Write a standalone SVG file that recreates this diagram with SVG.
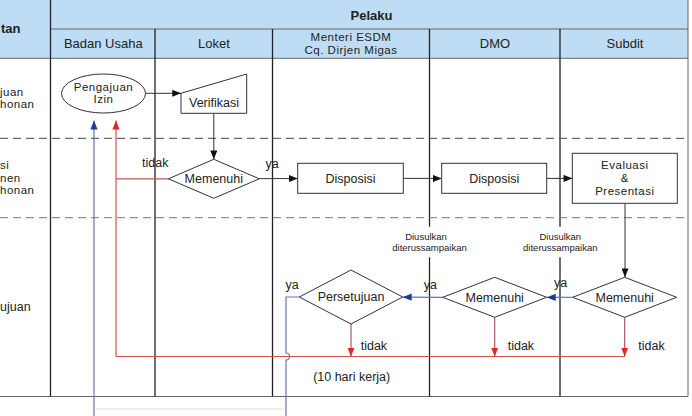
<svg xmlns="http://www.w3.org/2000/svg" width="692" height="416" viewBox="0 0 692 416">
<style>
.t{font-family:"Liberation Sans",Arial,sans-serif;fill:#222;font-size:12.5px;text-anchor:middle}
.h{font-size:13px}
.m{font-size:11.5px;letter-spacing:0.5px}
.b{font-weight:bold;font-size:13px}
.s{font-size:9.5px}
.l{text-anchor:start}
.shape{fill:#fff;stroke:#333;stroke-width:1}
.lane{stroke:#222;stroke-width:1.3;fill:none}
.hl{stroke:#666;stroke-width:1;fill:none}
.dash1{stroke:#444;stroke-width:1;stroke-dasharray:8 5;fill:none}
.dash2{stroke:#777;stroke-width:1;stroke-dasharray:8 5;fill:none}
.k{stroke:#333;stroke-width:1;fill:none}
.r{stroke:#d65050;stroke-width:1.2;fill:none}
.rd{stroke:#a85a5a;stroke-width:1.2;fill:none}
.bl{stroke:#6378a8;stroke-width:1.2;fill:none}
</style>
<defs>
<marker id="ak" viewBox="0 0 10 8" refX="10" refY="4" markerWidth="9" markerHeight="7" orient="auto" markerUnits="userSpaceOnUse"><path d="M0,0 L10,4 L0,8 z" fill="#111"/></marker>
<marker id="ar" viewBox="0 0 10 8" refX="10" refY="4" markerWidth="9" markerHeight="8" orient="auto" markerUnits="userSpaceOnUse"><path d="M0,0 L10,4 L0,8 z" fill="#e02828"/></marker>
<marker id="ab" viewBox="0 0 10 8" refX="10" refY="4" markerWidth="9" markerHeight="8" orient="auto" markerUnits="userSpaceOnUse"><path d="M0,0 L10,4 L0,8 z" fill="#1c3a96"/></marker>
</defs>
<rect x="0" y="0" width="692" height="416" fill="#fff"/>
<g id="frame">
<rect x="0" y="0" width="688" height="58" fill="#bfdcf5"/>
<line class="hl" x1="50" y1="29" x2="688" y2="29"/>
<line class="hl" x1="0" y1="58.3" x2="688" y2="58.3"/>
<line class="hl" x1="0" y1="396.5" x2="688" y2="396.5"/>
<line class="hl" x1="688" y1="0" x2="688" y2="396.5"/>
<line class="lane" x1="50.5" y1="0" x2="50.5" y2="396.5"/>
<line class="lane" x1="155" y1="29" x2="155" y2="396.5"/>
<line class="lane" x1="272.5" y1="29" x2="272.5" y2="396.5"/>
<line class="lane" x1="429.5" y1="29" x2="429.5" y2="226.7"/>
<line class="lane" x1="429.5" y1="257.3" x2="429.5" y2="396.5"/>
<line class="lane" x1="560" y1="29" x2="560" y2="226.7"/>
<line class="lane" x1="560" y1="257.3" x2="560" y2="396.5"/>
<line class="dash1" x1="0" y1="138.3" x2="688" y2="138.3"/>
<line class="dash2" x1="0" y1="217.7" x2="688" y2="217.7"/>
<line x1="96" y1="409" x2="284" y2="409" stroke="#f6e4d8" stroke-width="1.5"/>
<text class="t b l" x="1" y="32.8">tan</text>
<text class="t b" x="371.5" y="19.5">Pelaku</text>
<text class="t h" x="103.3" y="47.8">Badan Usaha</text>
<text class="t h" x="214" y="47.8">Loket</text>
<text class="t m" x="351" y="40.8">Menteri ESDM</text>
<text class="t m" x="351" y="53.6">Cq. Dirjen Migas</text>
<text class="t h" x="495" y="47.8">DMO</text>
<text class="t h" x="625" y="47.8">Subdit</text>
<text class="t m l" x="0" y="96.2">juan</text>
<text class="t m l" x="0" y="108.4">honan</text>
<text class="t m l" x="0" y="169.4">si</text>
<text class="t m l" x="0" y="181.6">nen</text>
<text class="t m l" x="0" y="193.8">honan</text>
<text class="t l" x="0" y="311.1">ujuan</text>
</g>
<g id="connectors">
<path class="k" d="M145.7,93.3 L181,93.3" marker-end="url(#ak)"/>
<path class="k" d="M213.8,113.3 L213.8,159.3" marker-end="url(#ak)"/>
<path class="k" d="M259.3,178.6 L297.7,178.6" marker-end="url(#ak)"/>
<path class="k" d="M403.3,178.4 L441.7,178.4" marker-end="url(#ak)"/>
<path class="k" d="M546.7,178.4 L572.3,178.4" marker-end="url(#ak)"/>
<path class="k" d="M625,203.3 L625,277.3" marker-end="url(#ak)"/>
<path class="bl" d="M572.7,297.3 L546.7,297.3" marker-end="url(#ab)"/>
<path class="bl" d="M442.7,297.3 L402.7,297.2" marker-end="url(#ab)"/>
<path class="bl" d="M299.3,297 L286,297 L286,353 A3.5,3.5 0 0 1 286,360 L286,416"/>
<path class="bl" d="M94,416 L94,120.5" marker-end="url(#ab)"/>
<path class="r" d="M168.3,178.8 L116,178.8"/>
<path class="r" d="M116,356.5 L116,120.5" marker-end="url(#ar)"/>
<path class="r" d="M116,356.5 L625,356.5"/>
<path class="rd" d="M351,324 L351,356.5" marker-end="url(#ar)"/>
<path class="rd" d="M494.7,317.3 L494.7,356.5" marker-end="url(#ar)"/>
<path class="rd" d="M624.7,317.3 L624.7,356.5" marker-end="url(#ar)"/>
<text class="t" x="155.3" y="167.2">tidak</text>
<text class="t" x="272" y="167.5">ya</text>
<text class="t" x="292" y="289.4">ya</text>
<text class="t" x="430.3" y="289.4">ya</text>
<text class="t" x="560.7" y="287">ya</text>
<text class="t l" x="360.7" y="350.4">tidak</text>
<text class="t l" x="507.7" y="350.4">tidak</text>
<text class="t l" x="638.3" y="350.4">tidak</text>
<text class="t" x="351.7" y="380.5">(10 hari kerja)</text>
<text class="t s" x="426" y="240.2">Diusulkan</text>
<text class="t s" x="429.5" y="251">diterussampaikan</text>
<text class="t s" x="560.3" y="240.2">Diusulkan</text>
<text class="t s" x="560.3" y="251">diterussampaikan</text>
</g>
<g id="n-pengajuan">
<ellipse class="shape" cx="103.5" cy="93.5" rx="42" ry="19.5"/>
<text class="t m" x="103.5" y="90.6">Pengajuan</text>
<text class="t m" x="103.5" y="103.4">Izin</text>
</g>
<g id="n-verifikasi">
<polygon class="shape" points="181,93.3 246.7,74 246.7,113.3 181,113.3"/>
<text class="t" x="214" y="107.2">Verifikasi</text>
</g>
<g id="n-memenuhi-loket">
<polygon class="shape" points="168.3,178.8 213.8,159.3 259.3,178.8 213.8,198.3"/>
<text class="t" x="213.8" y="183.1">Memenuhi</text>
</g>
<g id="n-disposisi-1">
<rect class="shape" x="297.7" y="163.3" width="105.6" height="30"/>
<text class="t" x="350.5" y="182.9">Disposisi</text>
</g>
<g id="n-disposisi-2">
<rect class="shape" x="441.7" y="163.3" width="105" height="30"/>
<text class="t" x="494.2" y="182.9">Disposisi</text>
</g>
<g id="n-evaluasi">
<rect class="shape" x="572.3" y="153.3" width="105" height="50"/>
<text class="t m" x="624.8" y="168.8">Evaluasi</text>
<text class="t m" x="624.8" y="182.4">&amp;</text>
<text class="t m" x="624.8" y="195.2">Presentasi</text>
</g>
<g id="n-persetujuan">
<polygon class="shape" points="299.3,297 351,270 402.7,297 351,324"/>
<text class="t" x="351" y="301.3">Persetujuan</text>
</g>
<g id="n-memenuhi-dmo">
<polygon class="shape" points="442.7,297.3 494.7,277.3 546.7,297.3 494.7,317.3"/>
<text class="t" x="494.7" y="301.6">Memenuhi</text>
</g>
<g id="n-memenuhi-subdit">
<polygon class="shape" points="572.7,297.3 624.7,277.3 676.7,297.3 624.7,317.3"/>
<text class="t" x="624.7" y="301.6">Memenuhi</text>
</g>
</svg>
